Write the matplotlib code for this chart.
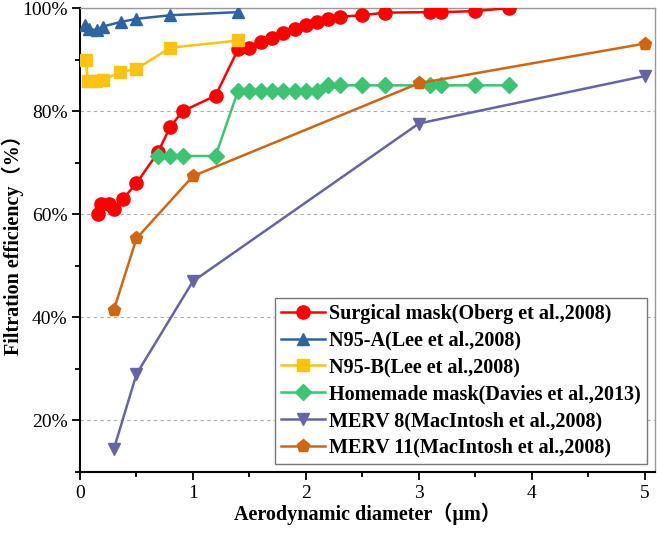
import matplotlib.pyplot as plt
from matplotlib.ticker import MultipleLocator, FuncFormatter

# data
surg_x = [0.16, 0.19, 0.26, 0.3, 0.38, 0.5, 0.69, 0.8, 0.91, 1.2, 1.4, 1.5, 1.6, 1.7,
          1.8, 1.9, 2.0, 2.1, 2.2, 2.3, 2.5, 2.7, 3.1, 3.2, 3.5, 3.8]
surg_y = [60, 62, 62, 61, 63, 66, 72, 77, 80, 83, 92, 92.3, 93.5, 94.2,
          95.2, 95.9, 96.7, 97.3, 97.8, 98.3, 98.6, 99.1, 99.2, 99.2, 99.4, 100]

n95a_x = [0.04, 0.08, 0.15, 0.2, 0.36, 0.5, 0.8, 1.4]
n95a_y = [96.7, 95.9, 95.7, 96.4, 97.3, 97.9, 98.6, 99.2]

n95b_x = [0.05, 0.07, 0.14, 0.2, 0.35, 0.5, 0.8, 1.4]
n95b_y = [90, 85.8, 85.8, 86, 87.5, 88.2, 92.3, 93.7]

home_x = [0.69, 0.8, 0.91, 1.2, 1.4, 1.5, 1.6, 1.7, 1.8, 1.9, 2.0, 2.1,
          2.2, 2.3, 2.5, 2.7, 3.1, 3.2, 3.5, 3.8]
home_y = [71.3, 71.3, 71.3, 71.3, 84, 84, 84, 84, 84, 84, 84, 84,
          85, 85, 85, 85, 85, 85, 85, 85]

merv8_x = [0.3, 0.5, 1.0, 3.0, 5.0]
merv8_y = [14.5, 29, 47, 77.6, 86.8]

merv11_x = [0.3, 0.5, 1.0, 3.0, 5.0]
merv11_y = [41.5, 55.3, 67.4, 85.4, 93.1]

series = [
    (surg_x, surg_y, 'Surgical mask(Oberg et al.,2008)', '#FF0000', 'o'),
    (n95a_x, n95a_y, 'N95-A(Lee et al.,2008)', '#2E64A0', '^'),
    (n95b_x, n95b_y, 'N95-B(Lee et al.,2008)', '#FFC20E', 's'),
    (home_x, home_y, 'Homemade mask(Davies et al.,2013)', '#3CC472', 'D'),
    (merv8_x, merv8_y, 'MERV 8(MacIntosh et al.,2008)', '#6464A6', 'v'),
    (merv11_x, merv11_y, 'MERV 11(MacIntosh et al.,2008)', '#D2650F', 'p'),
]

fonts = ['Liberation Serif', 'Noto Sans CJK SC']
plt.rcParams['font.family'] = fonts

fig = plt.figure(figsize=(6.57, 5.34), dpi=100)
ax = fig.add_axes([0.1218, 0.116, 0.875, 0.869])

for x, y, lab, c, m in series:
    ms = 9.5 if m in ('o', 'p') else 8.5
    if m == 'D':
        ms = 8
    ax.plot(x, y, color=c, marker=m, markersize=ms, linewidth=1.8, label=lab, zorder=3)

ax.set_xlim(0, 5.09)
ax.set_ylim(10, 100)
ax.xaxis.set_major_locator(MultipleLocator(1))
ax.xaxis.set_minor_locator(MultipleLocator(0.5))
ax.yaxis.set_major_locator(MultipleLocator(20))
ax.yaxis.set_minor_locator(MultipleLocator(10))
ax.yaxis.set_major_formatter(FuncFormatter(lambda v, p: f'{v:.0f}%'))
ax.grid(axis='y', which='major', linestyle=(0, (3, 3)), color='#aaaaaa', linewidth=0.8)

ax.tick_params(which='both', direction='out', width=1.3, labelsize=14, top=False, right=False)
ax.tick_params(which='major', length=6, pad=3)
ax.tick_params(which='minor', length=3.5)
for s in ('left', 'bottom'):
    ax.spines[s].set_linewidth(1.5)
for s in ('top', 'right'):
    ax.spines[s].set_color('#999999')
    ax.spines[s].set_linewidth(1.0)

ax.set_xlabel('Aerodynamic diameter（μm）', fontsize=14.5, fontweight='bold', labelpad=1)
ax.set_ylabel('Filtration efficiency（%）', fontsize=14.5, fontweight='bold')
ax.yaxis.set_label_coords(-0.097, 0.5)

leg = ax.legend(loc='lower right', prop={'family': fonts, 'weight': 'bold', 'size': 14.5},
                frameon=True, fancybox=False, edgecolor='#777777', framealpha=1,
                handlelength=2.2, handletextpad=0.2, labelspacing=0.34,
                borderpad=0.3, borderaxespad=0.4)
leg.get_frame().set_linewidth(1.0)

fig.savefig('out.png', dpi=100)
